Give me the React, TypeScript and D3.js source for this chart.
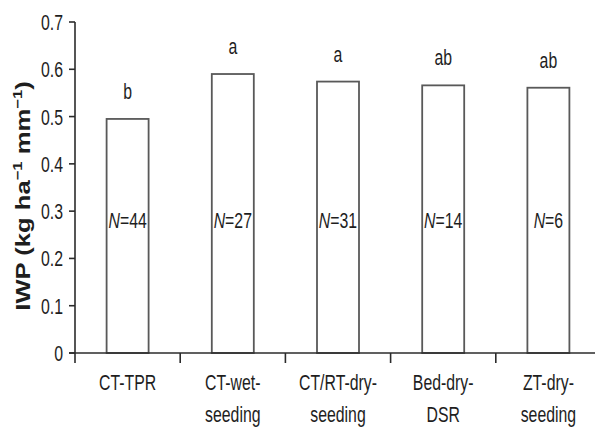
import React from "react";
import * as d3 from "d3";

const categories = ["CT-TPR", "CT-wet-seeding", "CT/RT-dry-seeding", "Bed-dry-DSR", "ZT-dry-seeding"];
const categoryLines = [["CT-TPR"], ["CT-wet-", "seeding"], ["CT/RT-dry-", "seeding"], ["Bed-dry-", "DSR"], ["ZT-dry-", "seeding"]];
const values = [0.495, 0.59, 0.574, 0.566, 0.561];
const letters = ["b", "a", "a", "ab", "ab"];
const counts = [44, 27, 31, 14, 6];
const yTicks = [0, 0.1, 0.2, 0.3, 0.4, 0.5, 0.6, 0.7];

const W = 595;
const H = 428;
const left = 75;
const right = 601;
const top = 22;
const bottom = 353;
const font = "'Liberation Sans', Arial, sans-serif";
const ink = "#2b2b2b";
const txt = "#1e1e1e";
const SX = 0.72;
const FS = 22;

function NText({ x, y, anchor = "middle", children, size = FS }: { x: number; y: number; anchor?: string; children: React.ReactNode; size?: number }) {
  return (
    <text transform={`translate(${x},${y}) scale(${SX},1)`} textAnchor={anchor} fontFamily={font} fontSize={size} fill={txt}>
      {children}
    </text>
  );
}

export default function App() {
  const x = d3.scaleBand<string>().domain(categories).range([left, right]).paddingInner(0).paddingOuter(0);
  const y = d3.scaleLinear().domain([0, 0.7]).range([bottom, top]);
  const bw = 42;
  const boundaries = categories.slice(1).map((c) => x(c)!);

  return (
    <svg width={W} height={H} style={{ position: "absolute", left: 0, top: 0, background: "#fff" }}>
      {categories.map((c, i) => {
        const cx = x(c)! + x.bandwidth() / 2;
        return (
          <g key={c}>
            <rect x={cx - bw / 2} y={y(values[i])} width={bw} height={bottom - y(values[i])} fill="#fff" stroke="#595959" strokeWidth={1.8} />
            <NText x={cx} y={y(values[i]) - 20}>{letters[i]}</NText>
            <NText x={cx} y={228}>
              <tspan fontStyle="italic">N</tspan>=<tspan>{counts[i]}</tspan>
            </NText>
            {categoryLines[i].map((ln, j) => (
              <NText key={j} x={cx} y={390 + j * 32}>{ln}</NText>
            ))}
          </g>
        );
      })}
      <line x1={left} x2={left} y1={top} y2={bottom + 10} stroke={ink} strokeWidth={1.6} />
      {yTicks.map((t) => (
        <g key={t}>
          <line x1={left - 6} x2={left} y1={y(t)} y2={y(t)} stroke={ink} strokeWidth={1.6} />
          <NText x={left - 12} y={y(t) + 8} anchor="end">{t === 0 ? "0" : d3.format(".1f")(t)}</NText>
        </g>
      ))}
      <line x1={left - 6} x2={W} y1={bottom} y2={bottom} stroke={ink} strokeWidth={1.6} />
      {boundaries.map((b, i) => (
        <line key={i} x1={b} x2={b} y1={bottom} y2={bottom + 10} stroke={ink} strokeWidth={1.6} />
      ))}
      <text transform={`translate(30,196) rotate(-90) scale(1.28,1)`} textAnchor="middle" fontFamily={font} fontWeight="bold" fontSize={20} fill={txt}>
        IWP (kg ha<tspan dy={-8} fontSize={13}>−1</tspan><tspan dy={8}> mm</tspan><tspan dy={-8} fontSize={13}>−1</tspan><tspan dy={8}>)</tspan>
      </text>
    </svg>
  );
}
